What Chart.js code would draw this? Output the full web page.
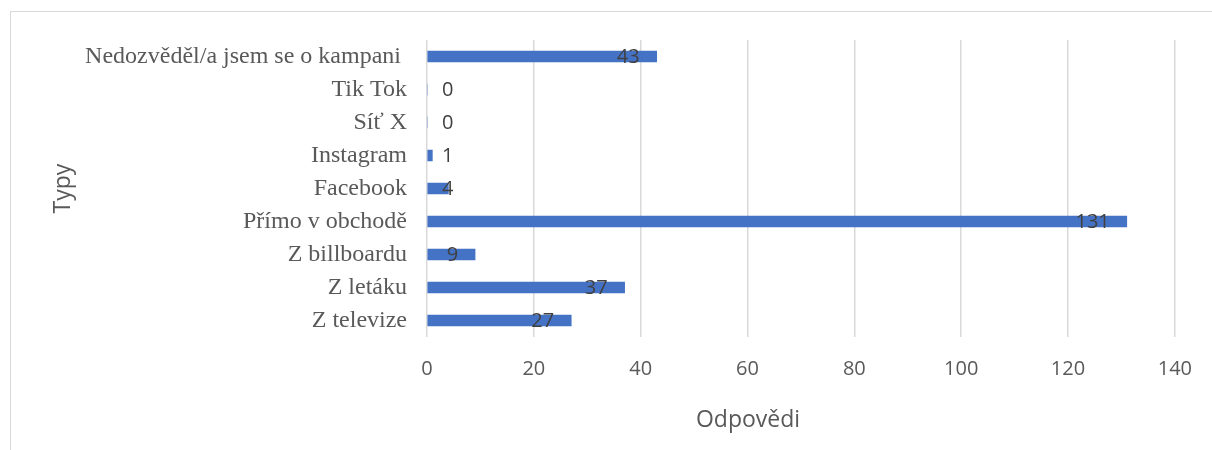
<!DOCTYPE html>
<html>
<head>
<meta charset="utf-8">
<script src="https://cdn.jsdelivr.net/npm/chart.js@4"></script>
<style>
  html, body { margin: 0; padding: 0; background: #fff; }
  #wrap { position: relative; width: 1212px; height: 450px; overflow: hidden; }
  #frame { position: absolute; left: 10px; top: 11px; width: 1300px; height: 500px; border: 1px solid #d9d9d9; box-sizing: border-box; }
  canvas { position: absolute; left: 0; top: 0; }
</style>
</head>
<body>
<div id="wrap">
  <div id="frame"></div>
  <canvas id="chart" width="1212" height="450"></canvas>
</div>
<script>
// kategorie (odshora dolů) a počty odpovědí
const categories = ['Nedozvěděl/a jsem se o kampani ', 'Tik Tok', 'Síť X', 'Instagram', 'Facebook', 'Přímo v obchodě', 'Z billboardu', 'Z letáku', 'Z televize'];
const values = [43, 0, 0, 1, 4, 131, 9, 37, 27];
const xTicks = [0, 20, 40, 60, 80, 100, 120, 140];
const xTitle = 'Odpovědi';

// popisky hodnot u konce sloupců + titulek osy x (není centrovaný nad plochou)
const valueLabels = {
    id: 'valueLabels',
    afterDatasetsDraw(chart) {
        const ctx = chart.ctx;
        const meta = chart.getDatasetMeta(0);
        const minLeft = chart.chartArea.left + 15;
        ctx.save();
        ctx.font = '20px "Open Sans"';
        ctx.fillStyle = '#404040';
        ctx.textBaseline = 'middle';
        ctx.textAlign = 'left';
        meta.data.forEach(function(bar, i) {
            const txt = String(values[i]);
            const w = ctx.measureText(txt).width;
            const left = Math.max(bar.x - 17 - w, minLeft);
            ctx.fillText(txt, left, bar.y + 1);
        });
        ctx.font = '23px "Open Sans"';
        ctx.fillStyle = '#595959';
        ctx.textAlign = 'center';
        ctx.fillText(xTitle, 748, 420);
        ctx.restore();
    }
};

new Chart(document.getElementById('chart'), {
    type: 'bar',
    data: {
        labels: categories,
        datasets: [{
            data: values,
            backgroundColor: '#4472c4',
            barThickness: 11
        }]
    },
    options: {
        indexAxis: 'y',
        responsive: false,
        animation: false,
        layout: { padding: { left: 40, right: 35, top: 40, bottom: 0 } },
        plugins: {
            legend: { display: false },
            tooltip: { enabled: false }
        },
        scales: {
            x: {
                min: 0,
                max: 140,
                afterBuildTicks: function(scale) {
                    scale.ticks = xTicks.map(v => ({ value: v }));
                },
                afterFit: function(scale) { scale.height = 113; },
                grid: { color: '#d9d9d9', lineWidth: 1.5, drawTicks: false },
                border: { display: false },
                ticks: { color: '#595959', font: { family: 'Open Sans', size: 20 }, padding: 20 }
            },
            y: {
                afterFit: function(scale) { scale.width = 387; },
                grid: { display: false, drawTicks: false },
                border: { display: false },
                ticks: { color: '#595959', font: { family: 'Liberation Serif', size: 24 }, padding: 20 },
                title: { display: true, text: 'Typy', color: '#595959', font: { family: 'Open Sans', size: 23 }, padding: { top: 10, bottom: 0 } }
            }
        }
    },
    plugins: [valueLabels]
});
</script>
</body>
</html>
